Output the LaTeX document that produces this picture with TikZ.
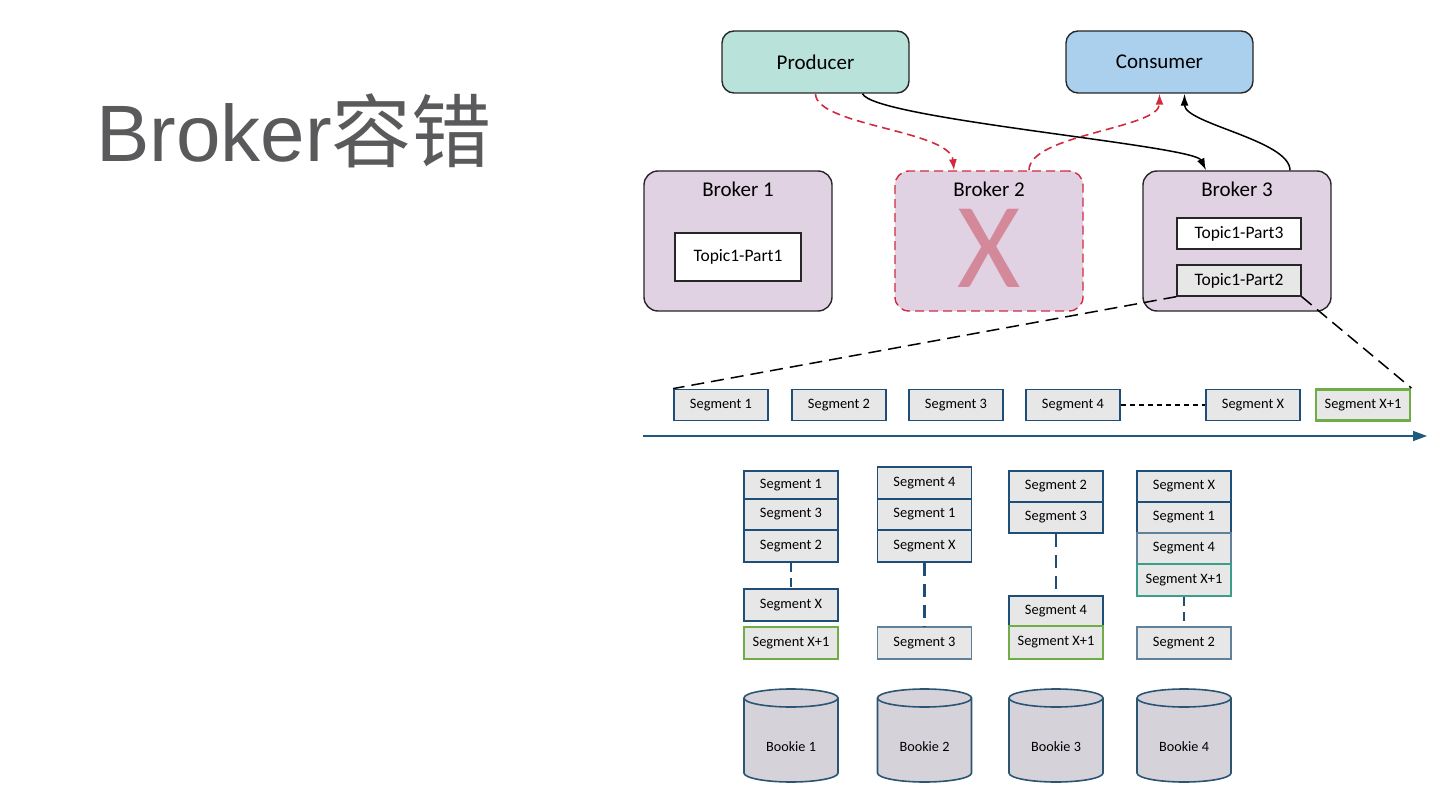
\documentclass[tikz,border=0pt]{standalone}
\usepackage{fontspec}
\setmainfont{Carlito}
\newfontfamily\titlefont{Liberation Sans}
\newfontfamily\cjkfont{Noto Sans CJK SC}
\usetikzlibrary{arrows.meta}
\definecolor{prodfill}{HTML}{B9E3DA}
\definecolor{consfill}{HTML}{AAD0EE}
\definecolor{brokfill}{HTML}{E1D2E3}
\definecolor{redc}{HTML}{D02B3F}
\definecolor{xcol}{HTML}{D4899A}
\definecolor{segfill}{HTML}{E7E7E7}
\definecolor{segblue}{HTML}{1F4E79}
\definecolor{seglight}{HTML}{5F819C}
\definecolor{greenc}{HTML}{70AD47}
\definecolor{tealc}{HTML}{3E9C8C}
\definecolor{axisc}{HTML}{1F5B7D}
\definecolor{bookfill}{HTML}{D6D2D9}
\definecolor{bookline}{HTML}{2A5573}
\definecolor{titlec}{HTML}{5A5A5C}
\begin{document}
\begin{tikzpicture}[x=1pt,y=-1pt,
  client/.style={draw=black!85, line width=1.4pt, rounded corners=12pt, minimum width=187pt, minimum height=62pt, inner sep=0pt, font=\fontsize{21}{24}\selectfont},
  broker/.style={draw=black!85, line width=1.4pt, fill=brokfill, rounded corners=14pt, minimum width=188pt, minimum height=140pt, inner sep=0pt},
  brokerlabel/.style={inner sep=0pt, font=\fontsize{21}{24}\selectfont},
  topic/.style={draw=black!85, line width=1.3pt, fill=white, minimum width=124pt, minimum height=31pt, inner sep=0pt, font=\fontsize{17.5}{20}\selectfont},
  seg/.style={draw=segblue, line width=1.8pt, fill=segfill, minimum width=94pt, minimum height=31pt, inner sep=0pt, font=\fontsize{14.4}{17}\selectfont},
  segnew/.style={seg, draw=greenc, line width=2.8pt},
  redflow/.style={draw=redc, line width=1.6pt, dash pattern=on 8pt off 5pt, -{Latex[length=11pt,width=8pt]}},
  blackflow/.style={draw=black, line width=1.5pt, -{Latex[length=12pt,width=8pt]}},
  zoomline/.style={draw=black, line width=1.5pt, dash pattern=on 13pt off 7pt},
  coldash/.style={draw=segblue, line width=2.6pt, dash pattern=on 13pt off 8pt},
  bookie/.style={draw=bookline, line width=1.6pt, fill=bookfill},
  booklabel/.style={inner sep=0pt, font=\fontsize{14.2}{17}\selectfont}
]
\useasboundingbox (0,0) rectangle (1440,810);

% title
\node[anchor=base west, inner sep=0pt, text=titlec] (title) at (96,162)
  {\fontsize{80}{90}\selectfont\titlefont Broker\cjkfont 容错};

% clients
\node[client, fill=prodfill] (prod) at (815.5,62) {Producer};
\node[client, fill=consfill] (cons) at (1159.5,62) {Consumer};

% brokers
\node[broker] (b1) at (738,241) {};
\node[broker, draw=redc, dash pattern=on 9pt off 5pt] (b2) at (989,241) {};
\node[broker] (b3) at (1237,241) {};
\node[brokerlabel] (b1l) at (738,189) {Broker 1};
\node[inner sep=0pt, text=xcol, font=\fontsize{122}{122}\selectfont] (bx) at (989,248) {X};
\node[brokerlabel] (b2l) at (989,189) {Broker 2};
\node[brokerlabel] (b3l) at (1237,189) {Broker 3};

\node[topic, minimum width=126pt, minimum height=48pt] (t1) at (738,257) {Topic1-Part1};
\node[topic] (t3) at (1239,233.5) {Topic1-Part3};
\node[topic, fill=segfill] (t2) at (1239,280.5) {Topic1-Part2};

% flows
\draw[redflow] (prod.south) .. controls +(0,32) and +(-4,-40) .. ([xshift=-35pt]b2.north);
\draw[redflow] ([xshift=40pt]b2.north) .. controls +(0,-36) and +(0,35) .. (cons.south);
\draw[blackflow] ([xshift=47pt]prod.south) .. controls +(10,25) and +(-12,-25) .. ([xshift=-31pt]b3.north);
\draw[blackflow] ([xshift=53pt]b3.north) .. controls +(0,-30) and +(0,30) .. ([xshift=25pt]cons.south);

% segment row
\node[seg] (r1) at (721,405) {Segment 1};
\node[seg] (r2) at (839,405) {Segment 2};
\node[seg] (r3) at (956,405) {Segment 3};
\node[seg] (r4) at (1073,405) {Segment 4};
\node[seg] (rx) at (1253,405) {Segment X};
\node[segnew] (rx1) at (1363,405) {Segment X+1};
\draw[black, line width=1.3pt, dash pattern=on 5pt off 4pt] (r4.east) -- (rx.west);

\draw[zoomline] (t2.south west) -- (r1.north west);
\draw[zoomline] (t2.south east) -- (rx1.north east);

% time axis
\coordinate (axs) at (643,436);
\coordinate (axe) at (1427,436);
\draw[axisc, line width=1.5pt, -{Triangle[length=14pt,width=10pt]}] (axs) -- (axe);

% column 1
\node[seg, minimum height=28pt] (a1) at (791,485) {Segment 1};
\node[seg] (a2) at (791,514.5) {Segment 3};
\node[seg, minimum height=32pt] (a3) at (791,546) {Segment 2};
\node[seg, minimum height=32pt] (a4) at (791,605) {Segment X};
\node[segnew, minimum height=32pt] (a5) at (791,643) {Segment X+1};
\draw[segblue, line width=1.2pt, dash pattern=on 9pt off 6pt] (a3.south) -- (a4.north);

% column 2
\node[seg, minimum height=32pt] (c1) at (924.5,483) {Segment 4};
\node[seg] (c2) at (924.5,514.5) {Segment 1};
\node[seg, minimum height=32pt] (c3) at (924.5,546) {Segment X};
\node[seg, draw=seglight, minimum height=32pt] (c4) at (924.5,643) {Segment 3};
\draw[coldash] (c3.south) -- (c4.north);

% column 3
\node[seg] (d1) at (1056,486.5) {Segment 2};
\node[seg] (d2) at (1056,517.5) {Segment 3};
\node[seg, minimum height=30pt] (d3) at (1056,611) {Segment 4};
\node[segnew, minimum height=33pt] (d4) at (1056,642.5) {Segment X+1};
\draw[coldash] (d2.south) -- (d3.north);

% column 4
\node[seg] (e1) at (1184,486.5) {Segment X};
\node[seg] (e2) at (1184,517.5) {Segment 1};
\node[seg, draw=seglight] (e3) at (1184,548.5) {Segment 4};
\node[seg, draw=tealc, line width=1.1pt, minimum height=32pt] (e4) at (1184,580) {Segment X+1};
\node[seg, draw=seglight, minimum height=32pt] (e5) at (1184,643) {Segment 2};
\draw[segblue, line width=1.6pt, dash pattern=on 9pt off 6pt] (e4.south) -- (e5.north);

% bookies
\foreach \cx/\n in {791/1, 924.5/2, 1056/3, 1184/4}{
  \draw[bookie] (\cx-47,698) -- (\cx-47,773)
     arc[start angle=180, end angle=0, x radius=47, y radius=9]
     -- (\cx+47,698)
     arc[start angle=0, end angle=-180, x radius=47, y radius=9] -- cycle;
  \draw[bookline, line width=1.6pt] (\cx-47,698) arc[start angle=180, end angle=0, x radius=47, y radius=9];
  \node[booklabel] (bk\n) at (\cx,747) {Bookie \n};
}
\end{tikzpicture}
\end{document}
